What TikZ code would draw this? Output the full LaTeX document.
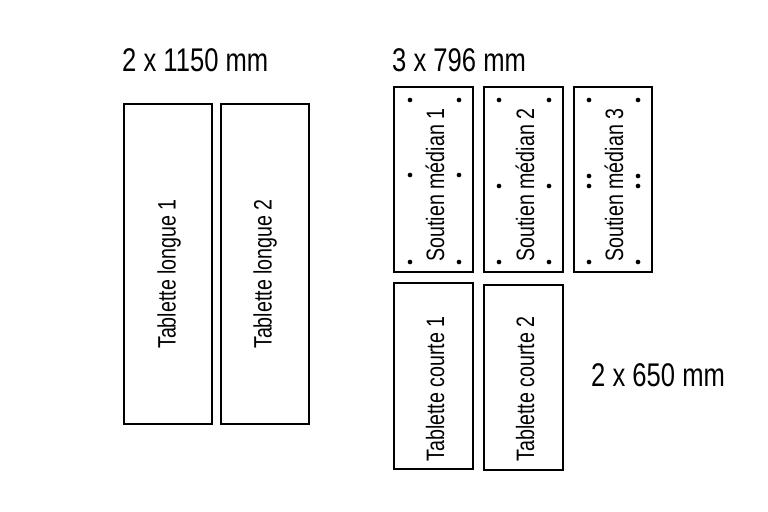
\documentclass[tikz,border=0pt]{standalone}
\usepackage{fontspec}
\setmainfont[FakeStretch=0.78]{Liberation Sans}
\tikzset{
  planche/.style={draw=black,line width=2.2pt,fill=white},
  etiquette/.style={rotate=90,font=\fontsize{21.5}{23}\selectfont,inner sep=0pt},
  cote/.style={font=\fontsize{28}{30}\selectfont,inner sep=0pt,anchor=west},
  trou/.style={fill=black}
}
\begin{document}
\begin{tikzpicture}[x=0.03cm,y=-0.03cm]
				\useasboundingbox (0,0) rectangle (768,512);
				% longues
				\node [cote] (cote1) at (122,60) {2 x 1150 mm};
				\draw [planche] (124,104) rectangle (212,424);
				\node [etiquette] (tl1) at (169,274) {Tablette longue 1};
				\draw [planche] (221,104) rectangle (309,424);
				\node [etiquette] (tl2) at (265,274) {Tablette longue 2};
				% soutiens
				\node [cote] (cote2) at (392,60) {3 x 796 mm};
				\draw [planche] (394,87) rectangle (473,272);
				\node [etiquette] (sm1) at (435,185) {Soutien médian 1};
				\foreach \x in {410,459} \foreach \y in {100,175,262} \fill [trou] (\x,\y) circle (2pt);
				\draw [planche] (484,87) rectangle (563,272);
				\node [etiquette] (sm2) at (525,185) {Soutien médian 2};
				\foreach \x in {499,549} \foreach \y in {100,186,262} \fill [trou] (\x,\y) circle (2pt);
				\draw [planche] (574,87) rectangle (652,272);
				\node [etiquette] (sm3) at (614,185) {Soutien médian 3};
				\foreach \x in {589,638} \foreach \y in {100,176,186,262} \fill [trou] (\x,\y) circle (2pt);
				% courtes
				\draw [planche] (394,283) rectangle (473,469);
				\node [etiquette] (tc1) at (435,389) {Tablette courte 1};
				\draw [planche] (484,285) rectangle (563,470);
				\node [etiquette] (tc2) at (525,389) {Tablette courte 2};
				\node [cote] (cote3) at (591,375) {2 x 650 mm};
			\end{tikzpicture}
\end{document}
